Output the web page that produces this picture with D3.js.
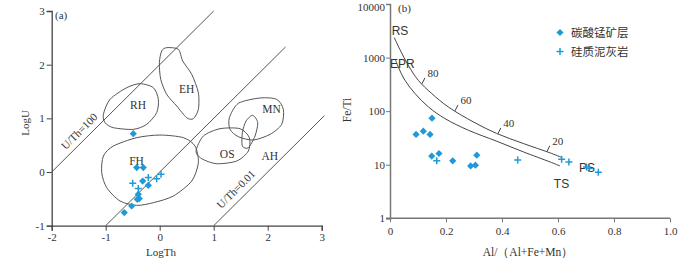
<!DOCTYPE html>
<html>
<head>
<meta charset="utf-8">
<script src="https://cdn.jsdelivr.net/npm/d3@7"></script>
<style>
  body { margin: 0; background: #fff; }
  text { font-family: "Liberation Serif", "DejaVu Serif", serif; fill: #333; }
  .sans { font-family: "Liberation Sans", Arial, sans-serif; }
  .cjk { font-family: "Noto Sans CJK SC", sans-serif; }
</style>
</head>
<body>
<div id="chart"></div>
<script>
/* Two panel discrimination diagram: (a) LogU vs LogTh, (b) Fe/Ti vs Al/(Al+Fe+Mn) */

// ---- panel (a) data ----
const aTicks = [-2, -1, 0, 1, 2, 3];
const aYTicks = [-1, 0, 1, 2, 3];
const mnDiamondsA = [
  [-0.489, 0.715], [-0.426, 0.082], [-0.304, 0.082], [-0.315, -0.168], [-0.211, -0.248],
  [-0.396, -0.415], [-0.378, -0.495], [-0.415, -0.508], [-0.519, -0.633], [-0.656, -0.756]
];
const marlCrossesA = [
  [-0.5, -0.21], [-0.396, -0.309], [-0.211, -0.104], [-0.056, -0.123], [0.024, -0.043]
];
// U/Th reference lines [x0, y0, x1, y1]
const ratioLines = [
  [-2, 0, 1, 3],
  [-1, -1, 2.33, 2.33],
  [1, -1, 3.05, 1.05]
];
const ratioLabels = [
  { text: "U/Th=100", x: -1.49, y: 0.76 },
  { text: "U/Th=0.01", x: 1.41, y: -0.32 }
];
const regionRH = [[-1.043, 1.075], [-0.92, 1.354], [-0.611, 1.571], [-0.364, 1.646], [-0.117, 1.571],
  [-0.025, 1.354], [-0.056, 1.106], [-0.241, 0.888], [-0.488, 0.795], [-0.858, 0.826], [-1.012, 0.919]];
const regionEH = [[0.13, 2.317], [0.346, 2.286], [0.426, 2.068], [0.593, 1.82], [0.716, 1.478],
  [0.716, 1.168], [0.623, 0.994], [0.5, 1.012], [0.315, 1.23], [0.13, 1.447], [0.019, 1.727],
  [-0.006, 2.037], [0.037, 2.255]];
const regionFH = [[0.006, 0.689], [-0.426, 0.64], [-0.858, 0.484], [-1.043, 0.298], [-1.074, -0.012],
  [-0.981, -0.292], [-0.735, -0.54], [-0.426, -0.621], [-0.117, -0.571], [0.253, -0.447],
  [0.593, -0.168], [0.716, 0.174], [0.654, 0.484], [0.438, 0.64]];
const regionOS = [[0.673, 0.391], [0.809, 0.671], [1.117, 0.807], [1.488, 0.807], [1.66, 0.64],
  [1.642, 0.391], [1.426, 0.205], [1.056, 0.155], [0.778, 0.248]];
const regionMN = [[1.29, 1.012], [1.457, 1.28], [1.858, 1.379], [2.167, 1.354], [2.29, 1.168],
  [2.259, 0.888], [2.043, 0.702], [1.735, 0.596], [1.457, 0.658], [1.302, 0.795]];
const regionMN2 = [[1.722, 1.056], [1.815, 0.919], [1.765, 0.671], [1.642, 0.453], [1.531, 0.484],
  [1.531, 0.733], [1.599, 0.95]];
const regionLabels = [
  { text: "RH", x: -0.4, y: 1.24 }, { text: "EH", x: 0.5, y: 1.54 },
  { text: "FH", x: -0.43, y: 0.2 }, { text: "OS", x: 1.25, y: 0.33 },
  { text: "MN", x: 2.07, y: 1.17 }, { text: "AH", x: 2.04, y: 0.3 }
];

// ---- panel (b) data ----
const bXTicks = [0, 0.2, 0.4, 0.6, 0.8, 1.0];
const bYTicks = [1, 10, 100, 1000, 10000];
const mnDiamondsB = [
  [0.093, 36.7], [0.119, 42.3], [0.143, 36.7], [0.15, 73.8], [0.149, 14.5],
  [0.175, 16.2], [0.224, 11.8], [0.288, 9.5], [0.305, 9.8], [0.31, 15.1]
];
const marlCrossesB = [
  [0.167, 11.8], [0.456, 12.2], [0.613, 12.7], [0.639, 11.3], [0.702, 9.1], [0.712, 8.5], [0.744, 7.2]
];
const curveUpper = [[0.0154, 2348], [0.0357, 1403], [0.0654, 716], [0.1011, 376], [0.149, 213],
  [0.208, 120], [0.3, 62], [0.381, 38.3], [0.476, 24.9], [0.571, 16.7], [0.613, 13.7]];
const curveLower = [[0.02, 900], [0.0296, 665], [0.0536, 376], [0.0893, 213], [0.137, 120],
  [0.196, 72.8], [0.28, 44], [0.381, 27.5], [0.476, 17.4], [0.571, 11.3], [0.607, 9.5]];
const curveMarks = [
  { text: "80", x: 0.114 }, { text: "60", x: 0.232 }, { text: "40", x: 0.385 }, { text: "20", x: 0.56 }
];
const endLabels = [
  { text: "RS", x: 0.006, y: 3100 }, { text: "EPR", x: 0.0, y: 770 },
  { text: "TS", x: 0.585, y: 4.35 }, { text: "PS", x: 0.675, y: 8.9 }
];
const legendNames = ["碳酸锰矿层", "硅质泥灰岩"];

const width = 700, height = 260;
const blue = "#1e9bd7";

const svg = d3.select("#chart")
  .append("svg")
  .attr("width", width)
  .attr("height", height)
  .attr("viewBox", [0, 0, width, height]);

const diamond = d3.symbol().type(d3.symbolSquare).size(26);
const crossPath = "M-3.5,0H3.5M0,-3.5V3.5";

/* ================= panel (a) ================= */
const xa = d3.scaleLinear().domain([-2, 3]).range([51.7, 321.7]);
const ya = d3.scaleLinear().domain([-1, 3]).range([225.7, 11]);

const gA = svg.append("g");

gA.append("g")
  .attr("transform", `translate(0,${ya(-1)})`)
  .call(d3.axisBottom(xa).tickValues(aTicks).tickSize(5).tickFormat(d3.format("d")))
  .call(g => g.select(".domain").attr("stroke", "#444").attr("stroke-width", 1.3))
  .call(g => g.selectAll(".tick line").attr("stroke", "#444"))
  .call(g => g.selectAll(".tick text").attr("font-size", 11).attr("font-family", "Liberation Serif").attr("fill", "#333").text(d => d < 0 ? "-" + Math.abs(d) : d));

gA.append("g")
  .attr("transform", `translate(${xa(-2)},0)`)
  .call(d3.axisLeft(ya).tickValues(aYTicks).tickSize(5).tickPadding(2))
  .call(g => g.select(".domain").attr("stroke", "#444").attr("stroke-width", 1.3))
  .call(g => g.selectAll(".tick line").attr("stroke", "#444"))
  .call(g => g.selectAll(".tick text").attr("font-size", 11).attr("font-family", "Liberation Serif").attr("fill", "#333").text(d => d < 0 ? "-" + Math.abs(d) : d));

gA.selectAll(".ratio")
  .data(ratioLines)
  .join("line")
  .attr("x1", d => xa(d[0])).attr("y1", d => ya(d[1]))
  .attr("x2", d => xa(d[2])).attr("y2", d => ya(d[3]))
  .attr("stroke", "#555").attr("stroke-width", 1);

gA.selectAll(".ratioLabel")
  .data(ratioLabels)
  .join("text")
  .attr("transform", d => `translate(${xa(d.x)},${ya(d.y)}) rotate(-45)`)
  .attr("text-anchor", "middle")
  .attr("dy", "0.35em")
  .attr("font-size", 11)
  .text(d => d.text);

const closed = d3.line()
  .x(d => xa(d[0])).y(d => ya(d[1]))
  .curve(d3.curveCardinalClosed.tension(0.2));

gA.selectAll(".region")
  .data([regionRH, regionEH, regionFH, regionOS, regionMN, regionMN2])
  .join("path")
  .attr("d", closed)
  .attr("fill", "none")
  .attr("stroke", "#555")
  .attr("stroke-width", 1);

gA.selectAll(".regionLabel")
  .data(regionLabels)
  .join("text")
  .attr("x", d => xa(d.x)).attr("y", d => ya(d.y))
  .attr("text-anchor", "middle").attr("dy", "0.35em")
  .attr("font-size", 11.5)
  .text(d => d.text);

gA.selectAll(".dA")
  .data(mnDiamondsA)
  .join("path")
  .attr("d", diamond)
  .attr("transform", d => `translate(${xa(d[0])},${ya(d[1])}) rotate(45)`)
  .attr("fill", blue);

gA.selectAll(".cA")
  .data(marlCrossesA)
  .join("path")
  .attr("d", crossPath)
  .attr("transform", d => `translate(${xa(d[0])},${ya(d[1])})`)
  .attr("stroke", blue).attr("stroke-width", 1.5).attr("fill", "none");

gA.append("text").attr("x", 55).attr("y", 15).attr("dy", "0.35em").attr("font-size", 11).text("(a)");
gA.append("text").attr("x", 161).attr("y", 252).attr("dy", "0.35em").attr("text-anchor", "middle")
  .attr("font-size", 11).text("LogTh");
gA.append("text").attr("transform", "translate(25,123) rotate(-90)").attr("dy", "0.35em")
  .attr("text-anchor", "middle").attr("font-size", 11).text("LogU");

/* ================= panel (b) ================= */
const xb = d3.scaleLinear().domain([0, 1]).range([390, 670]);
const yb = d3.scaleLog().domain([1, 10000]).range([218.3, 4]);

const gB = svg.append("g");

gB.append("g")
  .attr("transform", `translate(0,${yb(1)})`)
  .call(d3.axisBottom(xb).tickValues(bXTicks).tickSize(4).tickPadding(5).tickFormat(d => d === 0 ? "0" : d3.format(".1f")(d)))
  .call(g => g.select(".domain").attr("stroke", "#777").attr("stroke-width", 1.5).attr("d", `M${xb(0) - 4},0H${xb(1)}`))
  .call(g => g.selectAll(".tick line").attr("stroke", "#777"))
  .call(g => g.selectAll(".tick text").attr("font-size", 11).attr("font-family", "Liberation Serif").attr("fill", "#333"));

gB.append("g")
  .attr("transform", `translate(${xb(0)},0)`)
  .call(d3.axisLeft(yb).tickValues(bYTicks).tickSize(4).tickPadding(1).tickFormat(d3.format("d")))
  .call(g => g.select(".domain").attr("stroke", "#777").attr("stroke-width", 1.5))
  .call(g => g.selectAll(".tick line").attr("stroke", "#777"))
  .call(g => g.selectAll(".tick text").attr("font-size", 11).attr("font-family", "Liberation Serif").attr("fill", "#333")
    .attr("dy", d => d === 10000 ? "0.55em" : "0.32em"));

const open = d3.line()
  .x(d => xb(d[0])).y(d => yb(d[1]))
  .curve(d3.curveCatmullRom.alpha(0.5));

gB.selectAll(".mix")
  .data([curveUpper, curveLower])
  .join("path")
  .attr("d", open)
  .attr("fill", "none")
  .attr("stroke", "#444")
  .attr("stroke-width", 1);

// percentage marks on upper curve: interpolate the curve in log space
const upLog = d3.scaleLinear()
  .domain(curveUpper.map(d => d[0]))
  .range(curveUpper.map(d => Math.log10(d[1])));

const marks = gB.selectAll(".mark")
  .data(curveMarks)
  .join("g")
  .attr("transform", d => `translate(${xb(d.x)},${yb(Math.pow(10, upLog(d.x)))})`);

marks.append("line")
  .attr("x1", 0).attr("y1", 0).attr("x2", 3).attr("y2", -6)
  .attr("stroke", "#444").attr("stroke-width", 1);

marks.append("text")
  .attr("x", 11).attr("y", -11)
  .attr("text-anchor", "middle").attr("dy", "0.35em")
  .attr("font-size", 11)
  .text(d => d.text);

gB.selectAll(".endLabel")
  .data(endLabels)
  .join("text")
  .attr("class", "sans")
  .attr("x", d => xb(d.x)).attr("y", d => yb(d.y))
  .attr("dy", "0.35em")
  .attr("font-size", 12)
  .attr("fill", "#222")
  .text(d => d.text);

gB.selectAll(".dB")
  .data(mnDiamondsB)
  .join("path")
  .attr("d", diamond)
  .attr("transform", d => `translate(${xb(d[0])},${yb(d[1])}) rotate(45)`)
  .attr("fill", blue);

gB.selectAll(".cB")
  .data(marlCrossesB)
  .join("path")
  .attr("d", crossPath)
  .attr("transform", d => `translate(${xb(d[0])},${yb(d[1])})`)
  .attr("stroke", blue).attr("stroke-width", 1.5).attr("fill", "none");

// legend
const legend = gB.selectAll(".legend")
  .data(legendNames)
  .join("g")
  .attr("transform", (d, i) => `translate(560,${32.5 + i * 19})`);

legend.append("path")
  .attr("d", (d, i) => i === 0 ? diamond() : crossPath)
  .attr("transform", (d, i) => i === 0 ? "rotate(45)" : null)
  .attr("fill", (d, i) => i === 0 ? blue : "none")
  .attr("stroke", (d, i) => i === 0 ? null : blue)
  .attr("stroke-width", 1.5);

legend.append("text")
  .attr("class", "cjk")
  .attr("x", 11).attr("dy", "0.35em")
  .attr("font-size", 11.5)
  .text(d => d);

gB.append("text").attr("x", 398).attr("y", 8.5).attr("dy", "0.35em").attr("font-size", 11).text("(b)");
gB.append("text").attr("transform", "translate(347,110) rotate(-90)").attr("dy", "0.35em")
  .attr("text-anchor", "middle").attr("font-size", 11.5).text("Fe/Ti");
gB.append("text").attr("x", 528).attr("y", 252).attr("dy", "0.35em").attr("text-anchor", "middle")
  .attr("font-size", 11.5).text("Al/（Al+Fe+Mn）");
</script>
</body>
</html>
